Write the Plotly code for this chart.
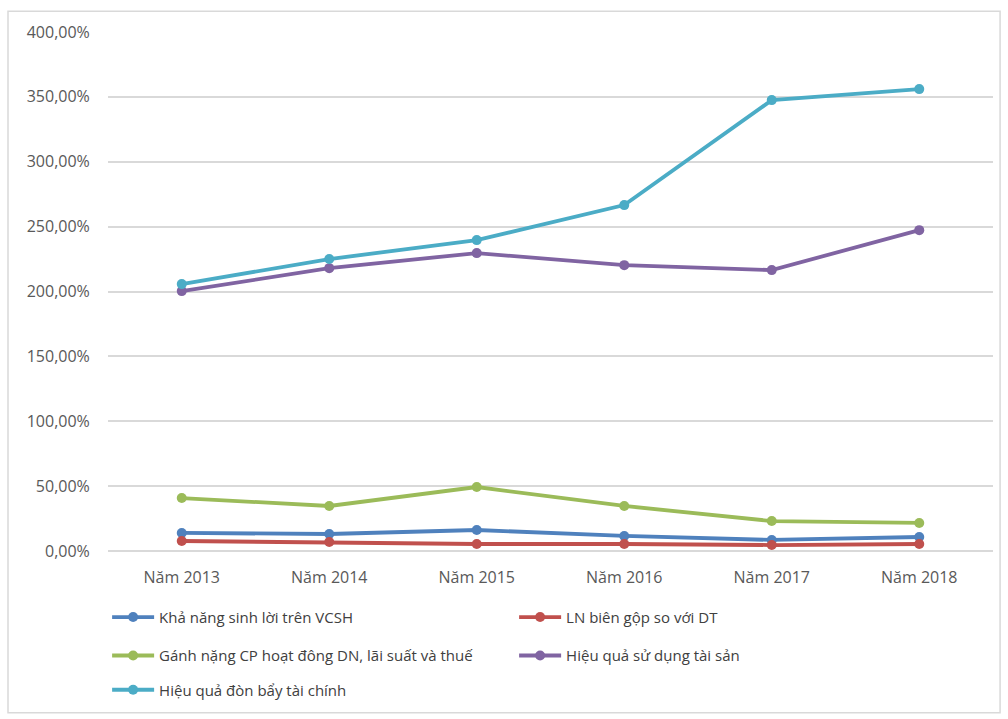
import plotly.graph_objects as go

years = ["Năm 2013", "Năm 2014", "Năm 2015", "Năm 2016", "Năm 2017", "Năm 2018"]
kha_nang = [13.9, 13.1, 16.2, 11.6, 8.5, 10.8]
ln_bien_gop = [7.7, 6.9, 5.4, 5.4, 4.6, 5.4]
ganh_nang = [40.8, 34.7, 49.3, 34.7, 23.1, 21.6]
hieu_qua_ts = [200.3, 218.0, 229.6, 220.3, 216.5, 247.3]
hieu_qua_db = [205.7, 225.0, 239.6, 266.6, 347.5, 356.0]
y_ticks = [0, 50, 100, 150, 200, 250, 300, 350, 400]
y_tick_text = [f"{v:.2f}".replace(".", ",") + "%" for v in y_ticks]

series = [
    ("Khả năng sinh lời trên VCSH", kha_nang, "#4F81BD", "legend"),
    ("LN biên gộp so với DT", ln_bien_gop, "#C0504D", "legend"),
    ("Gánh nặng CP hoạt đông DN, lãi suất và thuế", ganh_nang, "#9BBB59", "legend2"),
    ("Hiệu quả sử dụng tài sản", hieu_qua_ts, "#8064A2", "legend2"),
    ("Hiệu quả đòn bẩy tài chính", hieu_qua_db, "#4BACC6", "legend3"),
]

fig = go.Figure()
for name, vals, color, lg in series:
    fig.add_trace(go.Scatter(
        x=years, y=vals, name=name, mode="lines+markers",
        line=dict(color=color, width=3.8),
        marker=dict(color=color, size=10),
        legend=lg,
    ))

font_family = "Open Sans, Liberation Sans, sans-serif"
legend_common = dict(orientation="h", xanchor="left", yanchor="top",
                     entrywidth=350, entrywidthmode="pixels",
                     font=dict(family=font_family, size=15, color="#404040"),
                     bgcolor="rgba(0,0,0,0)", itemwidth=42)

fig.update_layout(
    width=1008, height=719,
    margin=dict(l=108, r=15, t=32, b=168),
    paper_bgcolor="white", plot_bgcolor="white",
    showlegend=True,
    legend=dict(x=-0.001, y=-0.096, **legend_common),
    legend2=dict(x=-0.001, y=-0.17, **legend_common),
    legend3=dict(x=-0.001, y=-0.236, **legend_common),
    xaxis=dict(
        range=[-0.5, 5.5],
        showgrid=False, showline=False, zeroline=False,
        tickfont=dict(family=font_family, size=16, color="#595959"),
        ticks="outside", ticklen=12, tickcolor="rgba(0,0,0,0)",
    ),
    yaxis=dict(
        range=[0, 400], tickvals=y_ticks, ticktext=y_tick_text,
        showgrid=True, gridcolor="#D9D9D9", gridwidth=1.5,
        zeroline=True, zerolinecolor="#D9D9D9", zerolinewidth=1.5,
        showline=False,
        tickfont=dict(family=font_family, size=16, color="#595959"),
        ticks="outside", ticklen=14, tickcolor="rgba(0,0,0,0)",
    ),
    shapes=[dict(type="rect", xref="paper", yref="paper",
                 x0=-0.113, x1=1.008, y0=-0.3115, y1=1.04,
                 line=dict(color="#D9D9D9", width=1.5))],
)

fig.write_html("out.html")
